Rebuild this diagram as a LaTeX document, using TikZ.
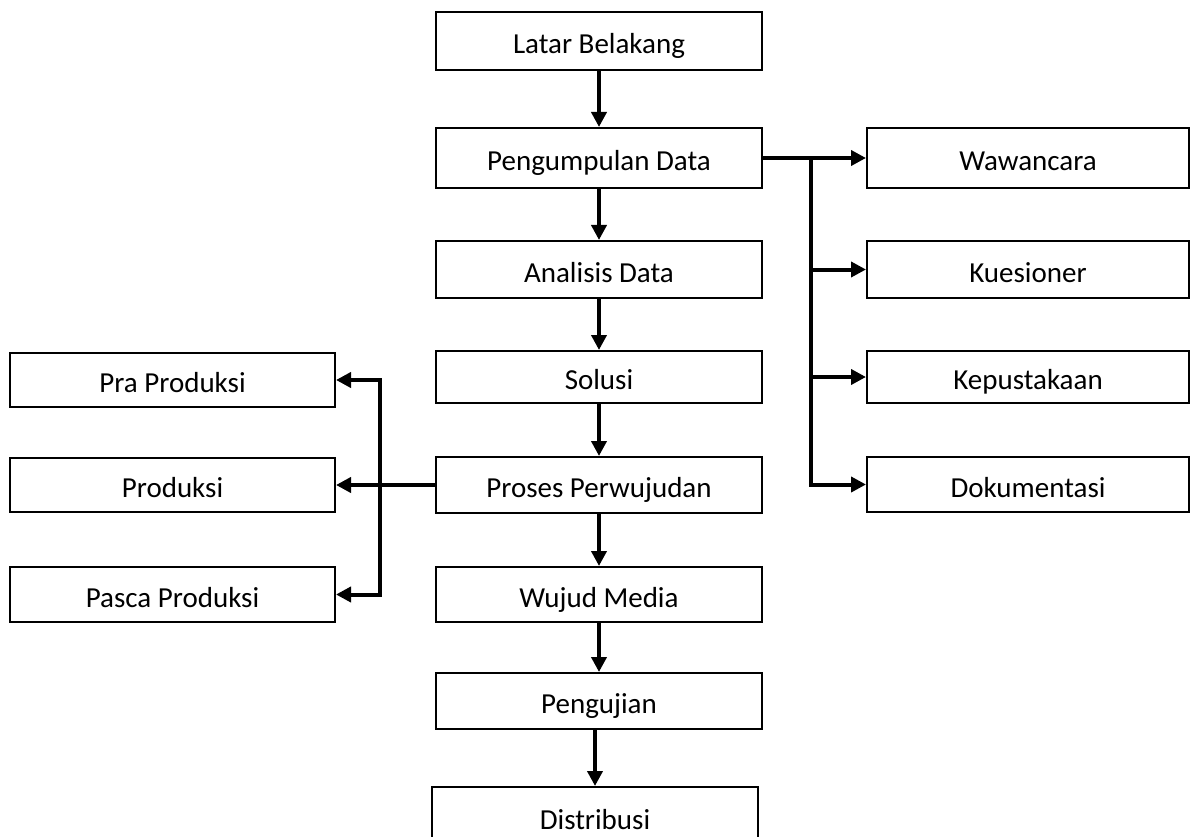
\documentclass[tikz,border=0pt]{standalone}
\usepackage{fontspec}
\setmainfont{Carlito}
\usetikzlibrary{arrows.meta}
\begin{document}
\begin{tikzpicture}[x=1pt,y=-1pt,
  box/.style={draw=black,line width=2pt,rectangle,minimum width=326pt,inner sep=0pt,text height=25pt,text depth=0pt,font=\fontsize{29}{34}\selectfont},
  arr/.style={line width=4pt,line join=miter,-{Triangle[length=15pt,width=15pt]}}]
\clip (0,0) rectangle (1191,837);
\fill[white] (0,0) rectangle (1191,837);
% central column
\node[box,minimum height=58pt] (lb) at (599,41) {Latar Belakang};
\node[box,minimum height=60pt] (pd) at (599,158) {Pengumpulan Data};
\node[box,minimum height=57pt] (ad) at (599,269.5) {Analisis Data};
\node[box,minimum height=52pt] (so) at (599,377) {Solusi};
\node[box,minimum height=56pt] (pp) at (599,485) {Proses Perwujudan};
\node[box,minimum height=55pt] (wm) at (599,594.5) {Wujud Media};
\node[box,minimum height=56pt] (pj) at (599,701) {Pengujian};
\node[box,minimum height=60pt] (di) at (595,817) {Distribusi};
% right column
\node[box,minimum width=322pt,minimum height=60pt] (ww) at (1028,158) {Wawancara};
\node[box,minimum width=322pt,minimum height=57pt] (ku) at (1028,269.5) {Kuesioner};
\node[box,minimum width=322pt,minimum height=52pt] (ke) at (1028,377) {Kepustakaan};
\node[box,minimum width=322pt,minimum height=55pt] (do) at (1028,484.5) {Dokumentasi};
% left column
\node[box,minimum width=325pt,minimum height=54pt] (pr) at (172.5,380) {Pra Produksi};
\node[box,minimum width=325pt,minimum height=54pt] (po) at (172.5,485) {Produksi};
\node[box,minimum width=325pt,minimum height=55pt] (pa) at (172.5,594.5) {Pasca Produksi};
% central arrows
\draw[arr] (lb.south) -- (pd.north);
\draw[arr] (pd.south) -- (ad.north);
\draw[arr] (ad.south) -- (so.north);
\draw[arr] (so.south) -- (pp.north);
\draw[arr] (pp.south) -- (wm.north);
\draw[arr] (wm.south) -- (pj.north);
\draw[arr] (di.north |- pj.south) -- (di.north);
% right branch
\coordinate (jr) at (811,158);
\draw[arr] (pd.east) -- (ww.west);
\draw[arr] (jr) |- (ku.west);
\draw[arr] (jr) |- (ke.west);
\draw[arr] (jr) |- (do.west);
% left branch
\coordinate (jl) at (380,485);
\draw[arr] (pp.west) -- (po.east);
\draw[arr] (jl) |- (pr.east);
\draw[arr] (jl) |- (pa.east);
\end{tikzpicture}
\end{document}
